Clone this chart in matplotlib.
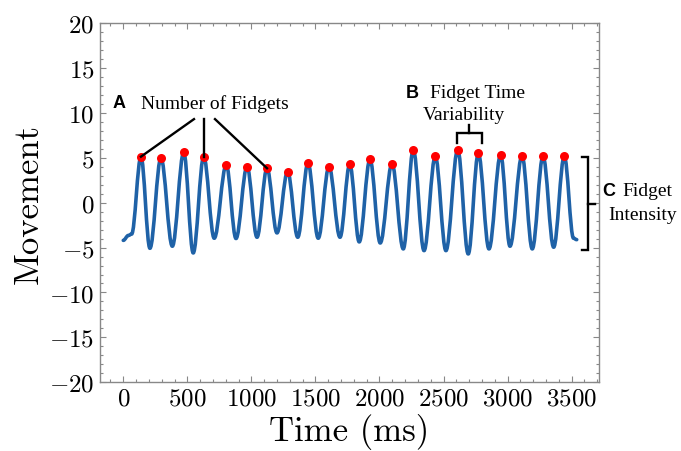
import matplotlib
matplotlib.use("Agg")
import matplotlib.pyplot as plt
from matplotlib.path import Path
from matplotlib.patches import PathPatch

plt.rcParams['font.family'] = 'cmr10'
plt.rcParams['mathtext.fontset'] = 'cm'
plt.rcParams['axes.formatter.use_mathtext'] = True

# ---- data ----
# extrema of the movement signal, in order (time in ms, movement)
ext_time = [0, 40, 65, 138, 208, 294, 383, 472, 546, 628, 710, 804, 880, 966, 1044,
            1122, 1200, 1283, 1362, 1442, 1522, 1606, 1692, 1768, 1842, 1926, 2006,
            2098, 2186, 2264, 2348, 2436, 2519, 2611, 2693, 2772, 2855, 2946, 3019,
            3113, 3193, 3277, 3360, 3443, 3515, 3540]
ext_move = [-4.2, -3.65, -3.5, 5.12, -5.08, 4.98, -4.85, 5.61, -5.60, 5.12, -3.96, 4.20,
            -3.99, 4.01, -3.85, 3.83, -3.37, 3.45, -3.85, 4.42, -3.96, 4.01, -3.85, 4.27,
            -4.37, 4.83, -4.49, 4.34, -5.15, 5.90, -5.34, 5.17, -5.34, 5.90, -5.71, 5.50,
            -5.15, 5.34, -4.85, 5.23, -5.15, 5.17, -4.96, 5.17, -3.96, -4.12]
# detected peaks (fidgets)
peak_time = [138, 294, 472, 628, 804, 966, 1122, 1283, 1442, 1606, 1768, 1926, 2098,
             2264, 2436, 2611, 2772, 2946, 3113, 3277, 3443]
peak_move = [5.12, 4.98, 5.61, 5.12, 4.20, 4.01, 3.83, 3.45, 4.42, 4.01, 4.27, 4.83,
             4.34, 5.90, 5.17, 5.90, 5.50, 5.34, 5.23, 5.17, 5.17]

x_ticks = [0, 500, 1000, 1500, 2000, 2500, 3000, 3500]
y_ticks = [-20, -15, -10, -5, 0, 5, 10, 15, 20]

fig = plt.figure(figsize=(6.81, 4.52), dpi=100)
ax = fig.add_axes([0.1468, 0.152, 0.7328, 0.7949])

# smooth curve through the extrema with horizontal tangents (cubic Bezier)
k = 0.3634
verts = [(ext_time[0], ext_move[0])]
codes = [Path.MOVETO]
for i in range(1, len(ext_time)):
    x0, y0 = ext_time[i - 1], ext_move[i - 1]
    x1, y1 = ext_time[i], ext_move[i]
    dx = x1 - x0
    verts += [(x0 + k * dx, y0), (x1 - k * dx, y1), (x1, y1)]
    codes += [Path.CURVE4] * 3
ax.add_patch(PathPatch(Path(verts, codes), facecolor='none', edgecolor='#1f62a7',
                       lw=2.6, capstyle='round', joinstyle='round', zorder=2))
ax.plot(peak_time, peak_move, 'o', color='#ff0000', ms=6.5, mec='none', zorder=3)

ax.set_xlim(-182, 3714)
ax.set_ylim(-20, 20)
ax.set_xticks(x_ticks)
ax.set_yticks(y_ticks)
ax.xaxis.set_minor_locator(matplotlib.ticker.MultipleLocator(100))
ax.yaxis.set_minor_locator(matplotlib.ticker.MultipleLocator(1))
ax.tick_params(which='both', direction='in', top=True, right=True, color='#888888',
               labelsize=18, width=0.8)
ax.tick_params(which='major', length=4, pad=4)
ax.tick_params(which='minor', length=2)
for s in ax.spines.values():
    s.set_color('#888888')
    s.set_linewidth(1.0)

ax.set_xlabel('Time (ms)', fontsize=25, labelpad=2)
ax.set_ylabel('Movement', fontsize=25, labelpad=3)

serif = ['Liberation Serif', 'DejaVu Serif']
sans = ['Liberation Sans', 'DejaVu Sans']

# A: Number of Fidgets
ax.text(-34, 11.1, 'A', family=sans, weight='bold', fontsize=13, ha='center', va='center')
ax.text(139, 11.1, 'Number of Fidgets', family=serif, fontsize=14, ha='left', va='center')
ax.plot([552, peak_time[0]], [9.3, peak_move[0]], color='black', lw=1.7, zorder=4)
ax.plot([peak_time[3], peak_time[3]], [9.3, peak_move[3]], color='black', lw=1.7, zorder=4)
ax.plot([716, peak_time[6]], [9.3, peak_move[6]], color='black', lw=1.7, zorder=4)

# B: Fidget Time Variability
ax.text(2257, 12.3, 'B', family=sans, weight='bold', fontsize=13, ha='center', va='center')
ax.text(2394, 12.3, 'Fidget Time', family=serif, fontsize=14, ha='left', va='center')
ax.text(2662, 9.8, 'Variability', family=serif, fontsize=14, ha='center', va='center')
bx0, bx1 = 2607, 2798
bxm = (bx0 + bx1) / 2
ax.plot([bx0, bx0, bx1, bx1], [6.65, 7.7, 7.7, 6.65], color='black', lw=1.7,
        solid_joinstyle='miter')
ax.plot([bxm, bxm], [7.7, 8.6], color='black', lw=1.7)

# C: Fidget Intensity
cx0, cx1, cx2 = 3581, 3628, 3683
ax.plot([cx0, cx1, cx1, cx0], [5.09, 5.09, -5.27, -5.27], color='black', lw=1.7,
        solid_joinstyle='miter', clip_on=False)
ax.plot([cx1, cx2], [-0.1, -0.1], color='black', lw=1.7, clip_on=False)
ax.text(3790, 1.3, 'C', family=sans, weight='bold', fontsize=13, ha='center', va='center',
        clip_on=False)
ax.text(3895, 1.3, 'Fidget', family=serif, fontsize=14, ha='left', va='center')
ax.text(3790, -1.3, 'Intensity', family=serif, fontsize=14, ha='left', va='center')

fig.savefig('out.png', dpi=100)
